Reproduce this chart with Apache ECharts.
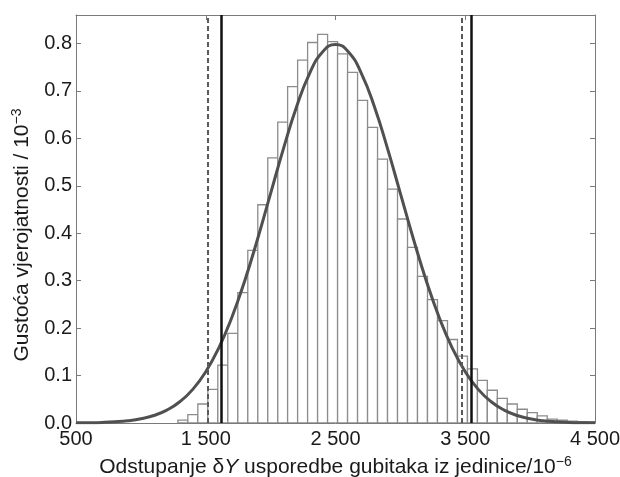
<!DOCTYPE html>
<html>
<head>
<meta charset="utf-8">
<script src="https://cdn.jsdelivr.net/npm/echarts@6/dist/echarts.min.js"></script>
<style>
  html, body { margin: 0; padding: 0; background: #fff; }
  #chart { width: 620px; height: 477px; }
</style>
</head>
<body>
<div id="chart"></div>
<script>
// histogram bin edges (units of 1e-6) and bar heights (units of 1e-3)
const binEdges = [1285, 1362, 1439, 1516, 1593, 1670, 1747, 1824, 1901, 1978, 2055,
    2131, 2208, 2285, 2362, 2439, 2516, 2593, 2670, 2747, 2824, 2901, 2978, 3055,
    3132, 3209, 3286, 3363, 3440, 3517, 3594, 3670, 3747, 3824, 3901, 3978, 4055,
    4132, 4209, 4286, 4363, 4440, 4517]
const binHeights = [0.006, 0.0175, 0.040, 0.071, 0.122, 0.189, 0.275, 0.364, 0.460,
    0.559, 0.634, 0.709, 0.765, 0.802, 0.819, 0.804, 0.778, 0.739, 0.680, 0.623,
    0.556, 0.493, 0.430, 0.370, 0.309, 0.260, 0.216, 0.176, 0.141, 0.114, 0.090,
    0.069, 0.052, 0.040, 0.029, 0.022, 0.015, 0.008, 0.006, 0.004, 0.003, 0.002]

// fitted density curve
const curveX = [500, 600, 700, 800, 900, 1000, 1100, 1200, 1300, 1400, 1500, 1600,
    1700, 1800, 1900, 2000, 2100, 2200, 2300, 2400, 2500, 2600, 2700, 2800, 2900,
    3000, 3100, 3200, 3300, 3400, 3500, 3600, 3700, 3800, 3900, 4000, 4100, 4200,
    4300, 4400, 4500]
const curveY = [0.0003, 0.0006, 0.0012, 0.0025, 0.0048, 0.0089, 0.0158, 0.0271,
    0.0448, 0.0709, 0.108, 0.158, 0.222, 0.2995, 0.3884, 0.484, 0.5794, 0.6665,
    0.7366, 0.7821, 0.7979, 0.7821, 0.7366, 0.6665, 0.5794, 0.484, 0.3884, 0.2995,
    0.222, 0.158, 0.108, 0.0709, 0.0448, 0.0271, 0.0158, 0.0089, 0.0048, 0.0025,
    0.0012, 0.0006, 0.0003]

// interval limits
const dashedLimits = [1517, 3475]
const solidLimits = [1620, 3550]

const font = 'Liberation Sans, Arial, sans-serif'
const axisGray = '#7a7a7a'
const textColor = '#1a1a1a'

const histData = binHeights.map((h, i) => [binEdges[i], binEdges[i + 1], h])
const curveData = curveX.map((x, i) => [x, curveY[i]])

function fmtThousands(v) {
    if (v < 1000) return String(v)
    const s = String(v)
    return s.slice(0, s.length - 3) + ' ' + s.slice(s.length - 3)
}

const boxAxis = {
    axisLine: { show: true, onZero: false, lineStyle: { color: axisGray, width: 1 } },
    axisTick: { show: true, inside: true, length: 5, lineStyle: { color: axisGray } },
    splitLine: { show: false }
}

const supStyle = { fontSize: 14, fontFamily: font, color: textColor, padding: [0, 0, 10, 0] }

const option = {
    animation: false,
    backgroundColor: '#fff',
    grid: { left: 76, right: 25, top: 15, bottom: 54, outerBoundsMode: 'none' },
    xAxis: [{
        type: 'value', min: 500, max: 4500, interval: 1000,
        ...boxAxis,
        axisLabel: {
            color: textColor, fontFamily: font, fontSize: 20, margin: 6,
            formatter: v => fmtThousands(v)
        },
        name: 'Odstupanje δ{it|Y} usporedbe gubitaka iz jedinice/10{sup|−6}',
        nameLocation: 'middle', nameGap: 32,
        nameTextStyle: {
            color: textColor, fontFamily: font, fontSize: 21,
            rich: {
                it: { fontStyle: 'italic', fontFamily: font, fontSize: 21, color: textColor },
                sup: supStyle
            }
        }
    }, {
        type: 'value', position: 'top', min: 500, max: 4500, interval: 1000,
        ...boxAxis,
        axisLabel: { show: false }
    }],
    yAxis: [{
        type: 'value', min: 0, max: 0.86, interval: 0.1,
        ...boxAxis,
        axisLabel: {
            color: textColor, fontFamily: font, fontSize: 20, margin: 4,
            showMaxLabel: false,
            formatter: v => v.toFixed(1)
        },
        name: 'Gustoća vjerojatnosti / 10{sup|−3}',
        nameLocation: 'middle', nameGap: 42,
        nameTextStyle: {
            color: textColor, fontFamily: font, fontSize: 21,
            padding: [0, 32, 0, 0],
            rich: { sup: supStyle }
        }
    }, {
        type: 'value', position: 'right', min: 0, max: 0.86, interval: 0.1,
        ...boxAxis,
        axisLabel: { show: false }
    }],
    series: [{
        type: 'custom',
        clip: true,
        renderItem: (params, api) => {
            const p0 = api.coord([api.value(0), 0])
            const p1 = api.coord([api.value(1), api.value(2)])
            return {
                type: 'rect',
                shape: { x: p0[0], y: p1[1], width: p1[0] - p0[0], height: p0[1] - p1[1] },
                style: { fill: '#fff', stroke: '#8c8c8c', lineWidth: 1.3 }
            }
        },
        encode: { x: [0, 1], y: 2 },
        data: histData,
        z: 1
    }, {
        type: 'line',
        data: curveData,
        smooth: true,
        showSymbol: false,
        lineStyle: { color: '#505050', width: 3 },
        z: 3,
        markLine: {
            silent: true,
            symbol: 'none',
            label: { show: false },
            data: [
                ...dashedLimits.map(x => ({ xAxis: x, lineStyle: { type: [5, 3], color: '#5a5a5a', width: 2 } })),
                ...solidLimits.map(x => ({ xAxis: x, lineStyle: { type: 'solid', color: '#111', width: 2.5 } }))
            ]
        }
    }]
}

const chart = echarts.init(document.getElementById('chart'), null, { renderer: 'canvas' })
chart.setOption(option)
</script>
</body>
</html>
